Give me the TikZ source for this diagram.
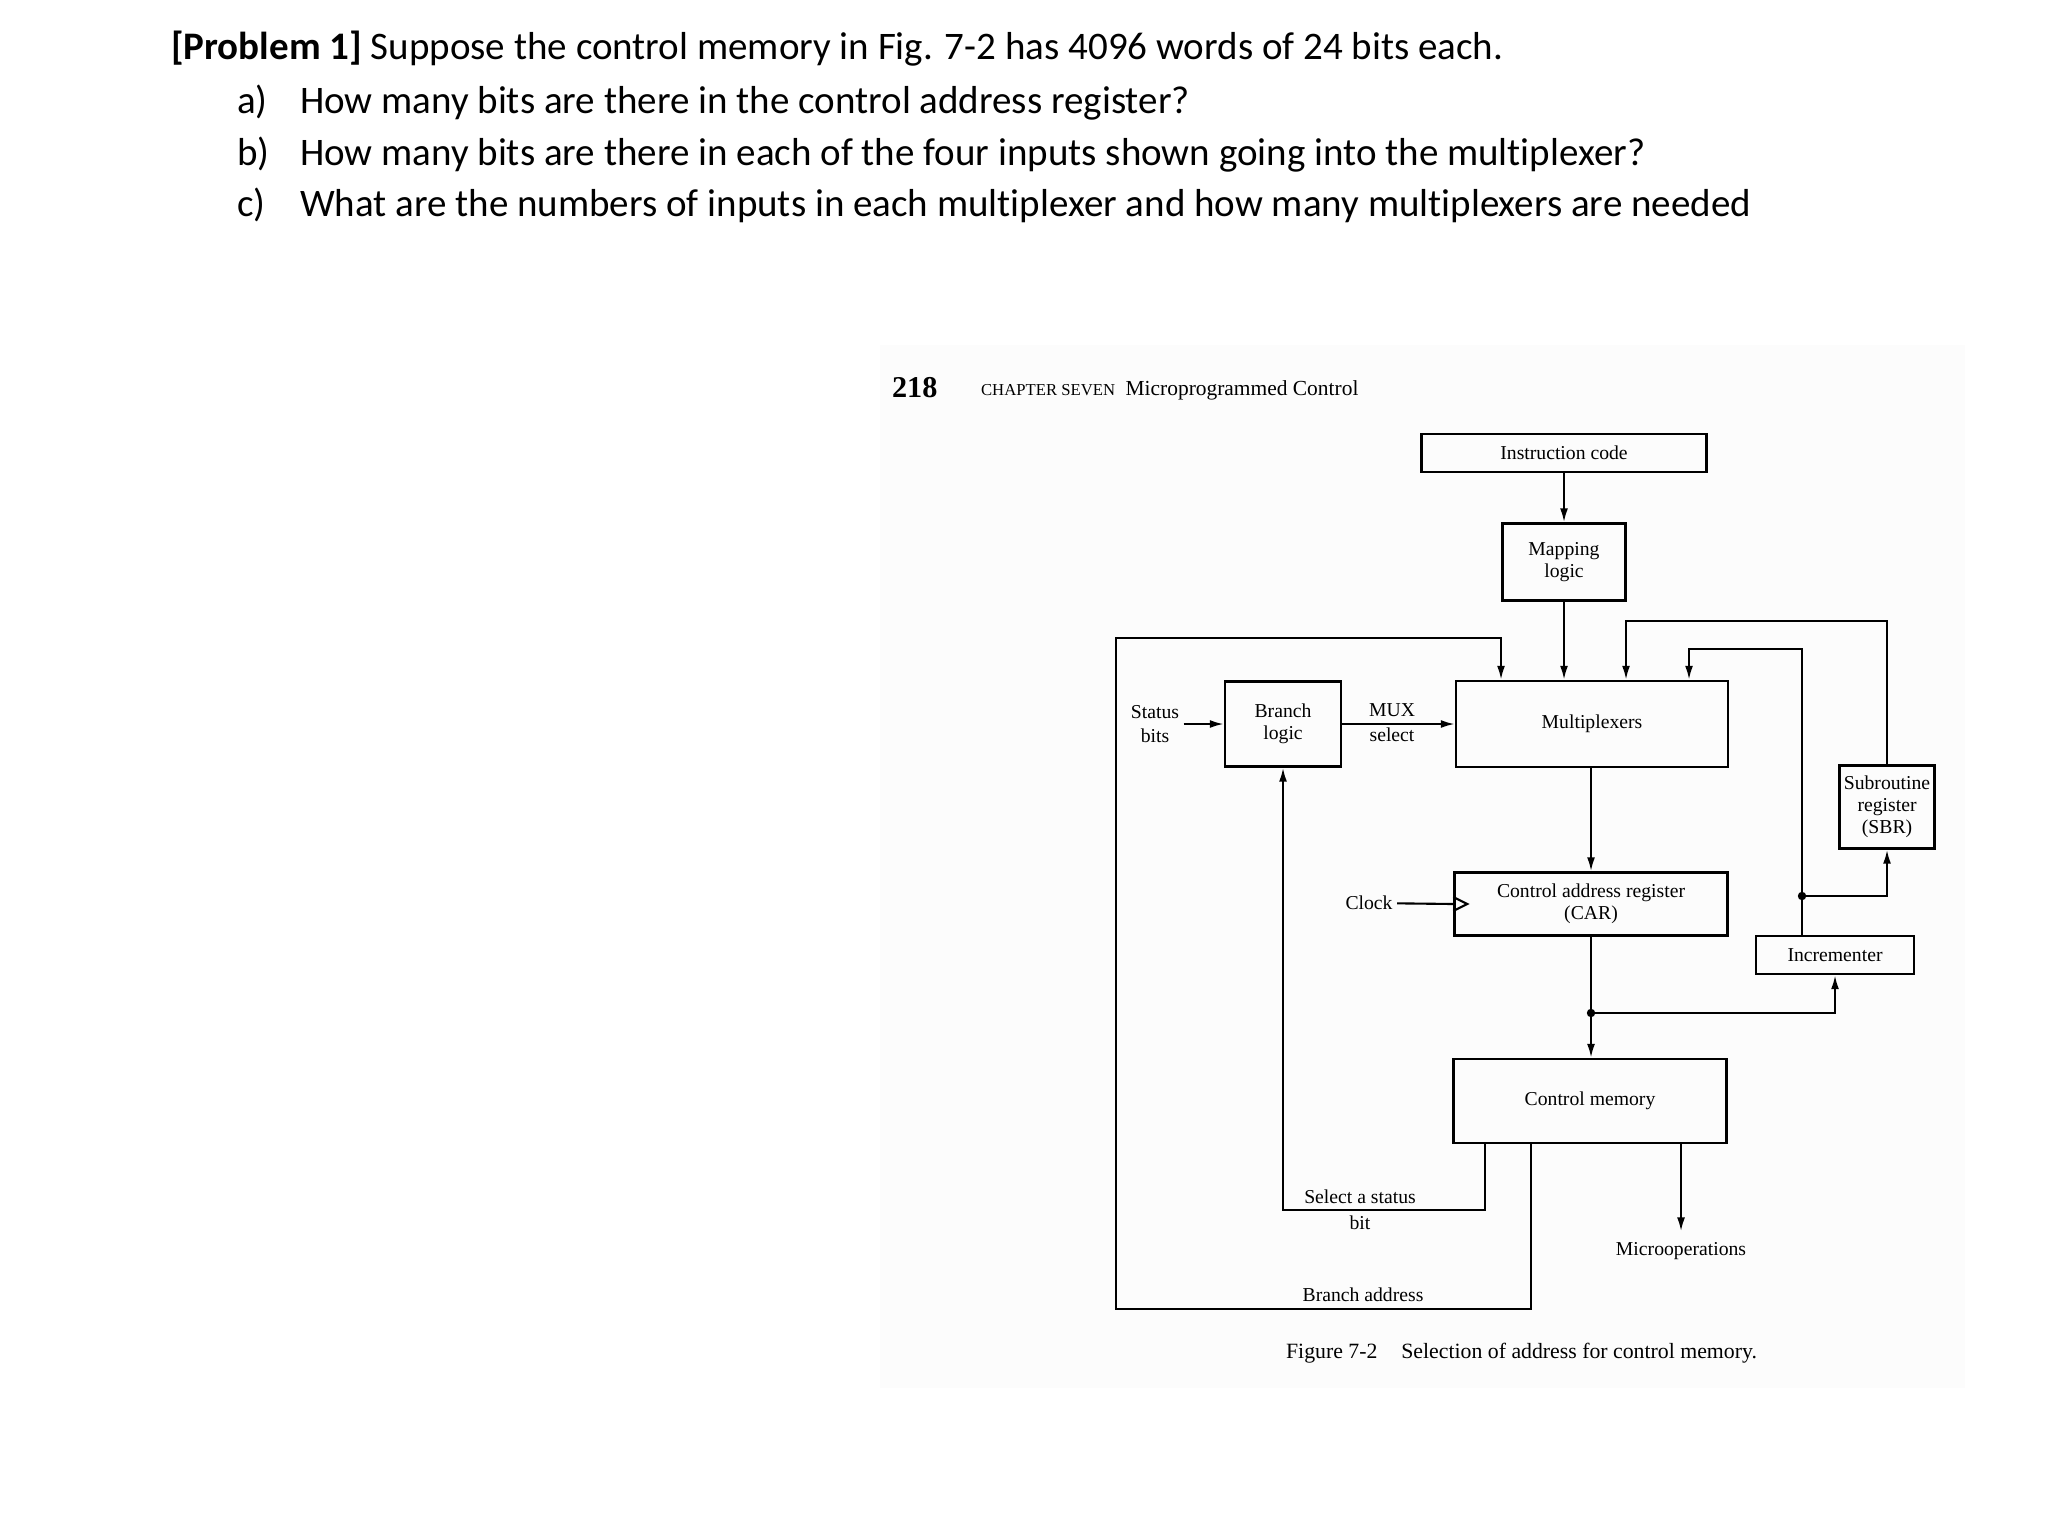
\documentclass[tikz,border=0pt]{standalone}
\usepackage{fontspec}
\setmainfont{Carlito}[Ligatures=NoCommon]
\newfontfamily\figfont{Liberation Serif}
\usetikzlibrary{arrows.meta}

\begin{document}
\begin{tikzpicture}[x=0.1mm,y=-0.1mm,line width=0.6pt,
  box/.style={draw,black,line width=0.7pt,inner sep=0pt,align=center,font=\figfont\fontsize{5.6}{6.3}\selectfont},
  lbl/.style={inner sep=1pt,align=center,font=\figfont\fontsize{5.6}{6.3}\selectfont},
  ask/.style={anchor=base west,inner sep=0pt,font=\fontsize{11.1}{13}\selectfont}]
\def\l{1.4mm}
\def\w{0.8mm}
\useasboundingbox (0,0) rectangle (2046,1523);
% faint paper of the scanned page
\fill[black!1.2] (880,345) rectangle (1965,1388);

% questions
\node [ask, name=q0]  at (170,60)  {\textbf{[Problem 1]} Suppose the control memory in Fig. 7-2 has 4096 words of 24 bits each.};
\node [ask, name=qa]  at (236,114) {a)};
\node [ask, name=qat] at (299,114) {How many bits are there in the control address register?};
\node [ask, name=qb]  at (236,165) {b)};
\node [ask, name=qbt] at (299,165) {How many bits are there in each of the four inputs shown going into the multiplexer?};
\node [ask, name=qc]  at (236,216) {c)};
\node [ask, name=qct] at (299,216) {What are the numbers of inputs in each multiplexer and how many multiplexers are needed};

% page head
\node [anchor=west, inner sep=0pt, font=\figfont\bfseries\fontsize{8.6}{10}\selectfont, name=pg] at (891,388) {218};
\node [anchor=west, inner sep=0pt, font=\figfont\fontsize{6.1}{7}\selectfont, name=ch] at (980,390)
  {{\fontsize{4.75}{6}\selectfont CHAPTER SEVEN}\hspace{3pt}Microprogrammed Control};

% blocks
\node [box, minimum width=28.5mm, minimum height=3.8mm, name=ic]  at (1564,453)  {Instruction code};
\node [box, minimum width=12.3mm, minimum height=7.7mm, name=ml]  at (1564,562)  {Mapping\\logic};
\node [box, minimum width=27.2mm, minimum height=8.6mm, name=mux] at (1592,724)  {Multiplexers};
\node [box, minimum width=11.6mm, minimum height=8.5mm, name=bl]  at (1283,724)  {Branch\\logic};
\node [box, minimum width=27.3mm, minimum height=6.3mm, name=car] at (1591,904)  {Control address register\\(CAR)};
\node [box, minimum width=27.3mm, minimum height=8.4mm, name=cm]  at (1590,1101) {Control memory};
\node [box, minimum width=9.5mm,  minimum height=8.3mm, name=sbr] at (1887,807)  {Subroutine\\register\\(SBR)};
\node [box, minimum width=15.8mm, minimum height=3.8mm, name=inc] at (1835,955)  {Incrementer};

% labels
\node [lbl, name=st]  at (1155,724)  {Status\\[0.5pt]bits};
\node [lbl, name=ms]  at (1392,723)  {MUX\\[0.8pt]select};
\node [lbl, name=clk] at (1369,903)  {Clock};
\node [lbl, name=ssb] at (1360,1210) {Select a status\\[1pt]bit};
\node [lbl, name=bad] at (1363,1295) {Branch address};
\node [lbl, inner sep=1mm, name=mo] at (1681,1251) {Microoperations};
\node [anchor=west, inner sep=0pt, font=\figfont\fontsize{6.2}{7}\selectfont, name=cap] at (1285,1353)
  {Figure 7-2\hspace{6.8pt}Selection of address for control memory.};

% bends of the wires
\coordinate (ba1) at (1531,1309);
\coordinate (ba2) at (1116,638);
\coordinate (ba3) at (1501,638);
\coordinate (ss1) at (1485,1210);
\coordinate (sb1) at (1626,621);
\coordinate (in1) at (1802,649);
\coordinate (in2) at (1689,649);
\coordinate (j1)  at (1802,896);
\coordinate (j2)  at (1591,1013);

% wires
\draw [-{Latex[length=\l, width=\w]}](ic) -- (ml);
\draw [-{Latex[length=\l, width=\w]}](ml) -- (mux.north -| ml);
\draw [-{Latex[length=\l, width=\w]}](st) -- (bl);
\draw [-{Latex[length=\l, width=\w]}](bl) -- (mux.west |- bl);
\draw [-{Latex[length=\l, width=\w]}](mux.south -| car) -- (car);
\draw [-{Latex[length=\l, width=\w]}](car) -- (cm.north -| car);
\draw [-{Latex[length=\l, width=\w]}](cm.south -| ba1) -- (ba1) -| (ba2) -- (ba3) -- (mux.north -| ba3);
\draw [-{Latex[length=\l, width=\w]}](cm.south -| ss1) -- (ss1) -| (bl.south);
\draw [-{Latex[length=\l, width=\w]}](cm.south -| mo) -- (mo);
\draw [-{Latex[length=\l, width=\w]}](sbr.north) |- (sb1) -- (mux.north -| sb1);
\draw [-{Latex[length=\l, width=\w]}](inc.north -| in1) -- (in1) -- (in2) -- (mux.north -| in2);
\draw [-{Latex[length=\l, width=\w]}](j1) -| (sbr.south);
\draw [-{Latex[length=\l, width=\w]}](j2) -| (inc.south);
\fill (j1) circle (1.2pt);
\fill (j2) circle (1.2pt);
\draw (clk) -- (car.west);
\draw (car.west) ++(0,-7) -- ++(14,7) -- ++(-14,7);
\end{tikzpicture}
\end{document}
